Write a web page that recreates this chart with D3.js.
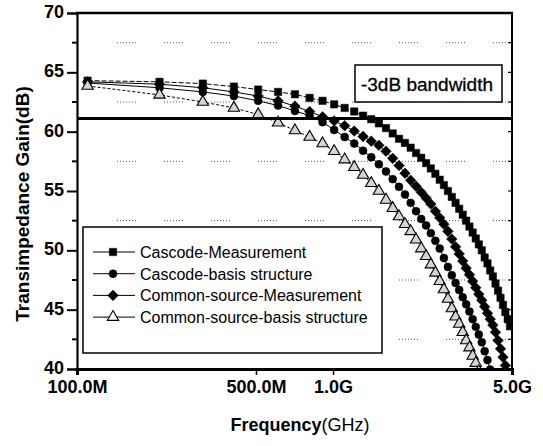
<!DOCTYPE html>
<html>
<head>
<meta charset="utf-8">
<script src="https://cdn.jsdelivr.net/npm/d3@7/dist/d3.min.js"></script>
<style>
  html, body { margin: 0; padding: 0; background: #fff; }
  svg { display: block; }
  text { font-family: "Liberation Sans", Arial, sans-serif; fill: #000; }
</style>
</head>
<body>
<svg id="chart" width="543" height="446"></svg>
<script>
// ---- data (frequency in GHz, gain in dB) ----
const freqs = [0.11,0.21,0.31,0.41,0.51,0.61,0.71,0.81,0.91,1.01,
               1.11,1.21,1.31,1.41,1.51,1.61,1.71,1.81,1.91,2.01,
               2.11,2.21,2.31,2.41,2.51,2.61,2.71,2.81,2.91,3.01,
               3.11,3.21,3.31,3.41,3.51,3.61,3.71,3.81,3.91,4.01,
               4.11,4.21,4.31,4.41,4.51,4.61,4.71,4.81,4.91];

const cascodeMeas = [64.3,64.2,64.05,63.8,63.55,63.35,63.15,62.85,62.6,62.3,
                     62.0,61.7,61.35,61.05,60.7,60.3,59.85,59.4,59.05,58.65,
                     58.2,57.8,57.35,56.9,56.45,55.95,55.5,55.0,54.5,54.0,
                     53.5,53.0,52.5,52.0,51.5,51.0,50.5,50.0,49.4,48.9,
                     48.3,47.8,47.2,46.6,46.0,45.4,44.8,44.2,43.6];

const cascodeBasis = [64.1,63.7,63.35,63.0,62.6,62.2,61.75,61.35,60.8,60.15,
                      59.55,59.0,58.4,57.85,57.25,56.65,56.0,55.35,54.7,54.0,
                      53.3,52.65,52.1,51.45,50.8,50.15,49.35,48.6,47.9,47.25,
                      46.65,46.05,45.45,44.85,44.2,43.55,42.9,42.25,41.5,40.75,
                      39.95,39.1];

const csMeas = [64.2,64.0,63.7,63.35,63.0,62.6,62.15,61.7,61.25,60.9,
                60.5,60.05,59.6,59.2,58.85,58.35,57.75,57.15,56.5,55.9,
                55.4,54.9,54.4,53.9,53.3,52.75,52.2,51.6,50.95,50.3,
                49.7,49.1,48.5,47.95,47.4,46.85,46.3,45.8,45.25,44.7,
                44.2,43.7,43.1,42.4,41.7,41.0,40.3,39.6,38.9];

const csBasis = [63.85,63.1,62.5,62.0,61.45,60.75,60.1,59.55,59.0,58.35,
                 57.65,57.0,56.35,55.65,55.0,54.25,53.55,52.85,52.2,51.6,
                 50.9,50.15,49.5,48.8,48.1,47.4,46.7,45.9,45.1,44.4,
                 43.8,43.1,42.4,41.8,41.1,40.5,39.8,39.1];

const seriesNames = ["Cascode-Measurement","Cascode-basis structure",
                     "Common-source-Measurement","Common-source-basis structure"];
const seriesValues = [cascodeMeas, cascodeBasis, csMeas, csBasis];
const seriesMarkers = ["square","circle","diamond","triangle"];

const xTicks = [0.1, 0.5, 1.0, 5.0];
const xTickLabels = ["100.0M","500.0M","1.0G","5.0G"];
const yTicks = [40,45,50,55,60,65,70];
const yMinorTicks = [42.5,47.5,52.5,57.5,62.5,67.5];
const bandwidthLevel = 61.1;
const bandwidthLabel = "-3dB bandwidth";

// ---- layout ----
const svg = d3.select("#chart");
const L = 77, R = 512, T = 13, B = 369;
const x = d3.scaleLog().domain([0.1, 5.0]).range([L, R]);
const y = d3.scaleLinear().domain([40, 70]).range([B, T]);

svg.append("defs").append("clipPath").attr("id","plotclip")
  .append("rect").attr("x", L).attr("y", T).attr("width", R - L).attr("height", B - T);

// faint fragmented dotted grid at minor levels
svg.append("g").selectAll("line").data(yMinorTicks).join("line")
  .attr("x1", L + 40).attr("x2", R - 2)
  .attr("y1", d => y(d)).attr("y2", d => y(d))
  .attr("stroke", "#555").attr("stroke-width", 1)
  .attr("stroke-dasharray", "1,2,1,2,1,2,1,2,1,2,1,2,1,28");

// symbols
function markerPath(type) {
  if (type === "square") return d3.symbol(d3.symbolSquare, 54)();
  if (type === "circle") return d3.symbol(d3.symbolCircle, 50)();
  if (type === "diamond") return d3.symbol(d3.symbolSquare, 56)();
  return d3.symbol(d3.symbolTriangle, 56)();
}
function styleMarker(sel, type) {
  sel.attr("d", markerPath(type))
    .attr("fill", type === "triangle" ? "#d4d4d4" : "#000")
    .attr("stroke", "#000")
    .attr("stroke-width", type === "triangle" ? 1.1 : 0.5);
}

// series
const plot = svg.append("g").attr("clip-path", "url(#plotclip)");
const line = d3.line().x(d => x(d[0])).y(d => y(d[1]));
seriesValues.forEach((vals, i) => {
  const pts = vals.map((v, j) => [freqs[j], v]);
  plot.append("path").datum(pts).attr("d", line)
    .attr("fill", "none").attr("stroke", "#000").attr("stroke-width", 1)
    .attr("stroke-dasharray", i === 0 ? "5,2" : (i === 3 ? "3,2" : null));
  const type = seriesMarkers[i];
  plot.append("g").selectAll("path").data(pts).join("path")
    .attr("transform", d => `translate(${x(d[0])},${y(d[1])})` + (type === "diamond" ? " rotate(45)" : ""))
    .call(styleMarker, type);
});

// -3dB line
svg.append("line").attr("x1", L).attr("x2", R)
  .attr("y1", y(bandwidthLevel)).attr("y2", y(bandwidthLevel))
  .attr("stroke", "#000").attr("stroke-width", 3);

// -3dB label box
svg.append("rect").attr("x", 355).attr("y", 65).attr("width", 147).attr("height", 37)
  .attr("fill", "#fff").attr("stroke", "#000").attr("stroke-width", 1.5);
svg.append("text").attr("x", 427).attr("y", 90.5).attr("text-anchor", "middle")
  .attr("font-size", 19).attr("stroke", "#000").attr("stroke-width", 0.3)
  .text(bandwidthLabel);

// frame
svg.append("line").attr("x1", L - 1).attr("x2", R + 1).attr("y1", T).attr("y2", T)
  .attr("stroke", "#000").attr("stroke-width", 2.5);
svg.append("line").attr("x1", R).attr("x2", R).attr("y1", T).attr("y2", B)
  .attr("stroke", "#000").attr("stroke-width", 2);
// right inner ticks
svg.append("g").selectAll("line").data(yTicks.concat(yMinorTicks)).join("line")
  .attr("x1", R - 4).attr("x2", R).attr("y1", d => y(d)).attr("y2", d => y(d))
  .attr("stroke", "#000").attr("stroke-width", 1.2);

// y axis
const yAxis = svg.append("g").attr("transform", `translate(${L},0)`)
  .call(d3.axisLeft(y).tickValues(yTicks).tickSize(10).tickPadding(3).tickFormat(d3.format("d")));
yAxis.select(".domain").attr("stroke-width", 2.2);
yAxis.selectAll(".tick line").attr("stroke-width", 2);
yAxis.selectAll(".tick text").attr("font-size", 18).attr("font-weight", "bold")
  .attr("dy", "0.25em")
  .attr("font-family", "'Liberation Sans', Arial, sans-serif");
svg.append("g").selectAll("line").data(yMinorTicks).join("line")
  .attr("x1", L - 5).attr("x2", L).attr("y1", d => y(d)).attr("y2", d => y(d))
  .attr("stroke", "#000").attr("stroke-width", 2);

// x axis
const xAxis = svg.append("g").attr("transform", `translate(0,${B})`)
  .call(d3.axisBottom(x).tickValues(xTicks).tickSize(6).tickPadding(4)
    .tickFormat((d, i) => xTickLabels[i]));
xAxis.select(".domain").attr("stroke-width", 3);
xAxis.selectAll(".tick line").attr("stroke-width", 1.5);
xAxis.selectAll(".tick text").attr("font-size", 18).attr("font-weight", "bold")
  .attr("dy", "0.78em")
  .attr("font-family", "'Liberation Sans', Arial, sans-serif");

// legend
const lg = svg.append("g");
lg.append("rect").attr("x", 83).attr("y", 227).attr("width", 299).attr("height", 126)
  .attr("fill", "#fff").attr("stroke", "#000").attr("stroke-width", 1.5);
seriesNames.forEach((name, i) => {
  const cy = 252 + i * 21.7;
  lg.append("line").attr("x1", 93).attr("x2", 135).attr("y1", cy).attr("y2", cy)
    .attr("stroke", "#000").attr("stroke-width", 1);
  const type = seriesMarkers[i];
  lg.append("path")
    .attr("transform", `translate(113,${cy})` + (type === "diamond" ? " rotate(45)" : ""))
    .call(styleMarker, type);
  if (type === "triangle") lg.select("path:last-child").attr("fill", "#fff");
  lg.append("text").attr("x", 140).attr("y", cy + 6).attr("font-size", 16).text(name);
});

// axis titles
const xt = svg.append("text").attr("x", 300).attr("y", 431).attr("text-anchor", "middle")
  .attr("font-size", 18);
xt.append("tspan").attr("font-weight", "bold").text("Frequency");
xt.append("tspan").text("(GHz)");

svg.append("text").attr("transform", "translate(29,204) rotate(-90)")
  .attr("text-anchor", "middle").attr("font-size", 19).attr("font-weight", "bold")
  .text("Transimpedance Gain(dB)");
</script>
</body>
</html>
